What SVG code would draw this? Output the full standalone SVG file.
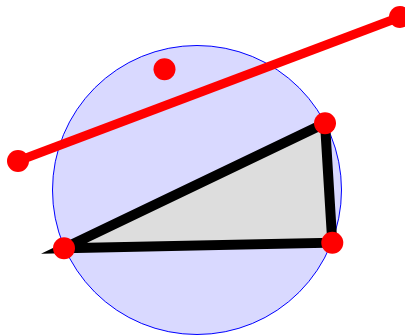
<svg xmlns="http://www.w3.org/2000/svg" width="405" height="335" viewBox="0 0 405 335">
<style>
.pt{fill:#ff0000;}
.seg{stroke:#ff0000;stroke-width:9;fill:none;}
</style>
<g id="circle"><circle cx="197" cy="190" r="144.5" fill="#d9d9ff" stroke="#0000ff" stroke-width="1"/></g>
<g id="connectors"><line class="seg" x1="18" y1="161" x2="400" y2="17"/></g>
<g id="triangle"><polygon points="64,248.3 325,123.3 332.3,242.7" fill="#dddddd" stroke="#000000" stroke-width="10" stroke-linejoin="miter" stroke-miterlimit="10"/></g>
<g id="p1"><circle class="pt" cx="18" cy="161" r="11"/></g>
<g id="p2"><circle class="pt" cx="400" cy="17" r="11"/></g>
<g id="p3"><circle class="pt" cx="164.5" cy="69.3" r="11"/></g>
<g id="p4"><circle class="pt" cx="64" cy="248.3" r="11"/></g>
<g id="p5"><circle class="pt" cx="325" cy="123.3" r="11"/></g>
<g id="p6"><circle class="pt" cx="332.3" cy="242.7" r="11"/></g>
</svg>
